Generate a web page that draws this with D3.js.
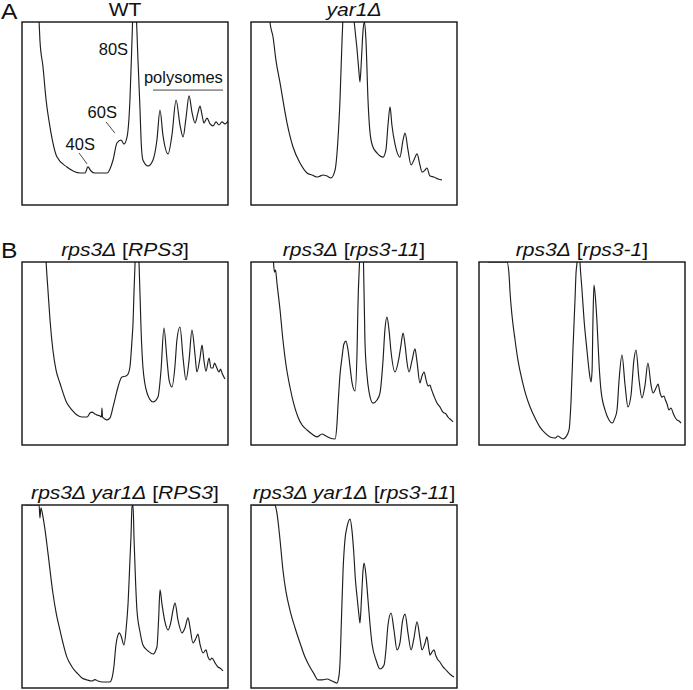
<!DOCTYPE html>
<html><head><meta charset="utf-8">
<script src="https://cdn.jsdelivr.net/npm/d3@7"></script>
<style>body{margin:0;background:#fff}svg{display:block}</style>
</head><body>
<svg id="c" width="693" height="690"></svg>
<script>
// Gradient position (% of gradient, top→bottom) and A254 (% of full scale)
const wtX = [7.8,8.3,8.7,10.2,11.7,13.6,17.0,21.8,28.2,30.6,32.0,33.5,35.4,41.3,44.2,46.1,48.1,49.5,51.0,52.4,53.4,53.9,54.4,55.3,56.3,57.3,57.8,58.7,61.2,63.6,65.5,67.0,68.4,70.9,72.8,74.8,76.7,78.2,79.6,81.1,82.5,84.0,85.4,86.4,87.4,88.3,89.8,91.3,92.7,94.2,95.6,97.1,98.5,100];
const wtY = [112,100,90.2,75.4,57.4,42.6,26.2,20.8,17.5,17.5,20.8,18.6,17.5,17.5,24.6,33.9,35.5,33.3,37.2,57.4,90.2,106.5,112,106.5,79.2,51.9,35.5,24.6,21.3,24.6,35.5,51.9,38.3,27.9,38.3,57.4,43.7,37.2,47.5,59.6,50.8,44.8,50.3,54.1,49.2,44.8,47.5,44.3,43.2,45.4,43.7,45.4,44.3,45.9];

const yar1X = [8.7,9.2,10.7,12.1,14.1,17.5,20.4,23.8,27.2,29.6,32.0,33.5,35.0,36.9,38.8,40.8,42.2,43.2,44.2,44.7,46.1,48.1,49.5,50.5,51.5,52.4,52.9,53.6,54.4,55.1,55.8,56.8,57.8,59.2,61.2,64.1,65.5,66.5,67.5,68.4,69.9,72.3,73.8,74.8,76.2,77.7,79.1,80.6,82.0,83.0,84.5,85.4,86.9,88.8,90.8,92.7];
const yar1Y = [112,100,91.8,79.2,66.7,44.8,31.7,22.9,17.5,16.4,15.3,15.8,16.4,15.8,14.8,19.1,35.5,57.4,90.2,103.8,123,123,106.5,95.6,84.7,72.7,67.2,79.2,95.6,100,90.2,57.4,39.3,31.7,28.4,26.2,30.1,43.7,53.6,43.7,33.3,26.2,35.5,39.3,30.1,21.9,24.6,27.9,21.9,18.0,19.1,20.2,15.8,15.3,14.2,13.7];

const rps3X = [11.2,11.7,12.6,13.6,15.0,16.5,18.4,21.8,24.3,26.7,29.1,31.6,33.0,34.0,35.4,36.4,37.9,38.6,38.8,39.1,40.3,41.3,42.7,44.2,45.6,46.6,48.5,50.5,51.5,52.4,53.4,53.9,54.4,54.9,55.8,56.8,57.8,58.7,60.7,63.6,66.0,67.5,68.9,70.4,71.4,72.8,74.3,75.2,76.7,78.2,79.6,81.1,82.5,84.0,84.9,86.4,87.4,88.3,89.3,90.8,91.7,92.7,93.4,94.2,95.6,96.4,97.1,98.5];
const rps3Y = [112,100,84.7,68.3,51.9,41.0,33.9,22.9,19.1,16.4,15.3,15.3,17.5,18.0,16.9,16.4,15.8,15.3,20.2,15.3,14.2,13.7,14.8,20.8,27.3,31.7,37.2,37.7,38.8,42.6,57.4,66.7,84.7,100,115,100,62.8,42.6,28.4,23.5,26.2,41.0,63.9,46.4,35.5,31.7,43.7,57.4,64.5,47.5,35.5,46.4,62.8,49.2,39.9,47.5,54.6,46.4,40.4,47.5,42.1,42.1,44.8,43.2,39.9,41.5,39.3,36.1];

const rps311X = [10.4,10.9,11.4,11.9,12.6,14.1,15.5,17.0,18.9,20.9,22.8,24.8,27.2,29.6,32.0,34.5,36.4,38.3,40.8,41.7,42.2,43.2,44.2,45.1,46.1,47.1,48.1,49.0,50.5,51.5,51.9,52.7,53.6,54.6,55.3,56.3,57.3,59.2,61.2,62.6,64.1,65.0,66.0,67.0,68.0,69.9,71.8,72.8,73.8,74.8,75.7,76.7,78.2,79.6,80.6,82.0,83.0,84.0,85.0,85.9,86.9,87.4,88.8,90.3,91.7,93.2,94.7,95.6,97.1,98.1];
const rps311Y = [106.5,100,94.5,95.6,88.5,73.8,57.4,43.7,31.7,21.9,15.3,10.9,8.2,6.0,4.4,6.0,4.9,3.8,3.3,10.9,20.8,38.3,48.1,55.2,56.8,51.9,42.6,34.4,29.5,51.9,75.4,100,117,100,57.4,38.3,29.0,22.9,24.6,28.4,46.4,62.8,69.9,62.8,50.8,39.9,47.5,54.6,61.2,54.6,45.4,39.9,46.4,52.5,45.4,33.9,37.7,39.9,35.5,32.3,32.8,31.1,26.8,22.9,20.8,18.0,16.9,15.3,13.7,12.6];

const rps31X = [4.4,13.6,14.6,15.0,16.0,17.5,18.9,20.9,22.8,24.8,27.2,29.6,32.0,34.5,36.9,38.3,39.8,40.8,42.2,43.7,44.7,45.6,46.6,47.1,47.6,48.3,49.0,50.0,51.0,52.4,53.4,54.4,54.9,55.3,55.8,56.6,57.3,58.3,59.2,61.2,63.1,64.6,66.0,67.0,68.0,69.4,70.9,72.3,73.8,75.2,76.2,77.7,79.1,80.6,82.0,83.5,84.5,85.9,86.9,87.9,88.8,89.8,90.5,91.3,92.2,93.2,94.2,95.1,96.1,97.1,98.1];
const rps31Y = [100,100,92.9,84.7,71.0,57.4,46.4,35.5,27.3,20.8,14.8,9.8,6.6,4.4,3.8,4.9,3.8,3.3,4.4,8.2,24.6,51.9,79.2,94.0,100,117,100,84.7,68.3,51.9,41.0,34.4,41.0,66.7,87.4,79.2,66.7,43.7,30.1,19.1,13.7,12.0,14.8,19.1,35.5,49.2,32.8,20.8,27.3,46.4,51.9,35.5,25.7,32.8,44.8,32.8,28.4,31.1,33.3,28.4,26.2,26.8,24.6,22.4,19.1,20.2,17.5,15.3,13.7,13.1,12.0];

const dblX = [1.5,8.3,8.7,9.2,10.2,11.2,12.6,15.0,16.5,18.4,21.8,24.3,26.7,29.1,31.6,34.0,35.4,36.9,39.3,42.7,43.7,44.7,45.6,46.6,47.3,48.1,49.5,50.5,51.5,52.4,52.9,53.4,53.9,54.4,55.1,55.8,57.3,58.7,61.2,63.6,65.5,66.3,67.0,68.0,69.4,70.9,72.3,73.3,74.3,75.7,77.7,79.1,80.6,81.6,83.0,84.5,85.4,86.4,87.9,89.3,90.3,91.3,92.2,93.7,95.1,96.1,97.6];
const dblY = [100,100,92.9,98.4,93.4,86.3,73.8,51.9,41.5,31.7,16.9,11.5,8.2,5.5,4.4,3.8,4.6,3.8,3.3,3.3,5.5,12.6,23.5,29.0,30.1,28.4,23.5,31.7,46.4,69.9,82.5,98.9,100,80.9,59.0,42.6,30.6,23.5,20.2,18.6,22.4,37.2,53.6,45.4,36.1,31.7,36.1,42.6,46.4,37.2,30.1,32.8,38.3,32.8,24.6,27.3,29.5,24.0,19.1,20.8,16.9,15.3,16.4,13.7,11.5,10.9,9.3];

const dbl11X = [1.0,11.7,12.1,12.6,14.1,15.5,17.0,18.9,21.4,23.8,26.2,28.6,30.6,32.5,34.5,36.9,39.3,41.7,42.7,43.2,43.9,44.7,45.6,46.6,48.1,49.0,49.8,50.7,51.5,52.4,52.9,53.6,54.4,54.9,55.8,56.8,57.8,58.7,60.7,62.6,64.6,65.5,66.5,68.0,69.4,70.9,72.3,73.5,74.8,76.2,77.7,79.1,80.6,82.0,83.0,84.5,85.4,86.4,86.9,87.9,88.8,89.8,90.8,91.7,93.2,94.7,95.6,97.1,98.5];
const dbl11Y = [100,100,98.4,95.6,80.9,64.5,52.5,42.6,32.8,24.6,16.9,11.5,7.7,4.4,4.4,4.9,3.8,2.7,6.6,13.7,37.2,64.5,80.9,88.0,92.3,86.3,75.4,59.0,49.7,39.9,35.5,48.1,64.5,68.3,61.7,48.1,34.4,24.6,15.3,10.4,12.6,20.8,34.4,41.0,31.7,20.8,24.6,36.1,40.4,30.1,20.8,27.3,36.1,27.3,20.8,24.6,27.9,20.8,18.0,19.7,20.8,17.5,15.3,14.2,11.5,9.8,8.7,7.1,6.0];

const panelTitles = [
  [["WT", false]],
  [["yar1Δ", true]],
  [["rps3Δ", true], [" [", false], ["RPS3", true], ["]", false]],
  [["rps3Δ", true], [" [", false], ["rps3-11", true], ["]", false]],
  [["rps3Δ", true], [" [", false], ["rps3-1", true], ["]", false]],
  [["rps3Δ yar1Δ", true], [" [", false], ["RPS3", true], ["]", false]],
  [["rps3Δ yar1Δ", true], [" [", false], ["rps3-11", true], ["]", false]]
];
const figLetters = ["A", "B"];
const peakLabels = ["80S", "60S", "40S"];
const peakLabelX = [51.5, 46.1, 35.4];
const peakLabelY = [82, 47.5, 30.1];
const leaderX1 = [null, 40.8, 27.7], leaderY1 = [null, 45.4, 28.4];
const leaderX2 = [null, 45.1, 31.6], leaderY2 = [null, 39.3, 22.4];
const polyLabel = "polysomes";
const polyX = [59.2, 63.6, 97.6], polyY = [66.7, 62.8];

const traces = [[wtX,wtY],[yar1X,yar1Y],[rps3X,rps3Y],[rps311X,rps311Y],[rps31X,rps31Y],[dblX,dblY],[dbl11X,dbl11Y]];

// layout
const cols = [22, 251, 479], rowsTop = [22, 262, 505], W = 206, H = 183;
const grid = [[0,0],[1,0],[0,1],[1,1],[2,1],[0,2],[1,2]];
const FONT = "'Liberation Sans', Arial, sans-serif";

const svg = d3.select("#c");
svg.append("rect").attr("width",693).attr("height",690).attr("fill","#fff");

const x = d3.scaleLinear().domain([0,100]).range([0,W]);
const y = d3.scaleLinear().domain([0,100]).range([H,0]);
const line = d3.line().x(d=>x(d[0])).y(d=>y(d[1])).curve(d3.curveMonotoneX);

grid.forEach(([c,r], i) => {
  const g = svg.append("g").attr("transform", `translate(${cols[c]},${rowsTop[r]})`);
  const cid = "clip" + i;
  g.append("clipPath").attr("id", cid).append("rect").attr("width", W).attr("height", H);
  const [xs, ys] = traces[i];
  const pts = xs.map((v,k)=>[v, ys[k]]);
  g.append("path").attr("d", line(pts)).attr("clip-path", `url(#${cid})`)
    .attr("fill","none").attr("stroke","#1e1e1e").attr("stroke-width",1.15).attr("stroke-linejoin","round");
  g.append("rect").attr("width", W).attr("height", H).attr("fill","none").attr("stroke","#111").attr("stroke-width",1.4);
  // title
  const tg = g.append("g").attr("transform", `translate(${W/2},-6.5) scale(1.17,1)`);
  const t = tg.append("text").attr("text-anchor","middle").attr("font-family",FONT).attr("font-size",18).attr("fill","#111");
  panelTitles[i].forEach(([s,it]) => t.append("tspan").text(s).attr("font-style", it ? "italic" : "normal"));

  if (i === 0) {
    peakLabels.forEach((lab, k) => {
      g.append("text").attr("x", x(peakLabelX[k])).attr("y", y(peakLabelY[k])).attr("text-anchor","end")
        .attr("font-family",FONT).attr("font-size",16.5).attr("fill","#111").text(lab);
      if (leaderX1[k] !== null) {
        g.append("line").attr("x1", x(leaderX1[k])).attr("y1", y(leaderY1[k])).attr("x2", x(leaderX2[k])).attr("y2", y(leaderY2[k]))
          .attr("stroke","#333").attr("stroke-width",0.9);
      }
    });
    g.append("text").attr("x", x(polyX[0])).attr("y", y(polyY[0]))
      .attr("font-family",FONT).attr("font-size",16.5).attr("fill","#111").text(polyLabel);
    g.append("line").attr("x1", x(polyX[1])).attr("x2", x(polyX[2])).attr("y1", y(polyY[1])).attr("y2", y(polyY[1]))
      .attr("stroke","#444").attr("stroke-width",1);
  }
});

// figure letters
[[1,19],[1,258]].forEach(([lx,ly],k) => {
  svg.append("g").attr("transform", `translate(${lx},${ly}) scale(1.12,1)`)
    .append("text").attr("font-family",FONT).attr("font-size",22).attr("fill","#111").text(figLetters[k]);
});
</script>
</body></html>
